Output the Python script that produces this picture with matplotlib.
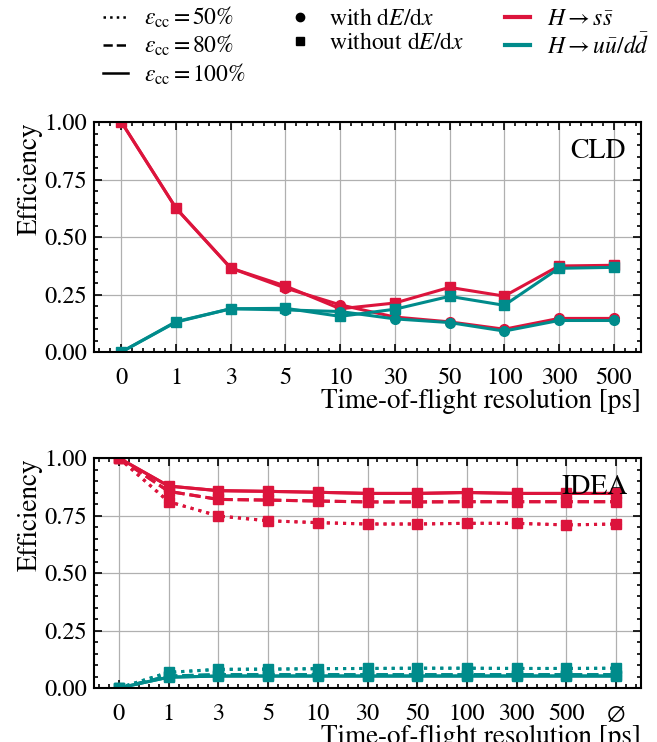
import matplotlib
matplotlib.use("Agg")
import matplotlib.pyplot as plt
from matplotlib.lines import Line2D
from matplotlib.ticker import MultipleLocator

plt.rcParams['font.family'] = ['STIXGeneral', 'Liberation Serif', 'DejaVu Serif']
plt.rcParams['mathtext.fontset'] = 'stix'
plt.rcParams['font.size'] = 17.5

RED = '#DC143C'
TEAL = '#008B8B'

# ---- data ----
cld_labels = ['0', '1', '3', '5', '10', '30', '50', '100', '300', '500']
idea_labels = ['0', '1', '3', '5', '10', '30', '50', '100', '300', '500', r'$\emptyset$']

# CLD (eps_cc = 100%)
cld_ss_with = [1.0, 0.625, 0.365, 0.278, 0.205, 0.152, 0.131, 0.099, 0.146, 0.146]
cld_ss_without = [1.0, 0.625, 0.365, 0.287, 0.188, 0.213, 0.281, 0.243, 0.374, 0.377]
cld_uu_with = [0.0, 0.130, 0.188, 0.183, 0.176, 0.144, 0.128, 0.091, 0.137, 0.137]
cld_uu_without = [0.0, 0.132, 0.188, 0.190, 0.155, 0.186, 0.242, 0.203, 0.364, 0.368]

# IDEA
idea_ss_100 = [1.0, 0.878, 0.858, 0.855, 0.851, 0.846, 0.846, 0.850, 0.846, 0.846, 0.846]
idea_ss_80 = [1.0, 0.855, 0.820, 0.817, 0.813, 0.809, 0.809, 0.810, 0.810, 0.810, 0.810]
idea_ss_50 = [1.0, 0.810, 0.748, 0.727, 0.719, 0.713, 0.713, 0.716, 0.716, 0.709, 0.713]
idea_uu_100 = [0.0, 0.047, 0.052, 0.052, 0.052, 0.052, 0.052, 0.052, 0.052, 0.052, 0.052]
idea_uu_80 = [0.0, 0.052, 0.058, 0.058, 0.058, 0.058, 0.058, 0.058, 0.058, 0.058, 0.058]
idea_uu_50 = [0.0, 0.068, 0.081, 0.082, 0.084, 0.085, 0.086, 0.086, 0.085, 0.085, 0.086]

fig = plt.figure(figsize=(6.57, 7.42), dpi=100)
W, H = 657, 742
ax1 = fig.add_axes([94 / W, (H - 352) / H, 547 / W, 230 / H])
ax2 = fig.add_axes([94 / W, (H - 688) / H, 547 / W, 230 / H])

lw = 2.2
ms = 7

def style(ax, labels):
    n = len(labels)
    ax.set_xlim(-0.5, n - 0.5)
    ax.set_ylim(0, 1)
    ax.set_xticks(range(n))
    ax.set_xticklabels(labels)
    ax.set_yticks([0, 0.25, 0.5, 0.75, 1.0])
    ax.set_yticklabels(['0.00', '0.25', '0.50', '0.75', '1.00'])
    ax.xaxis.set_minor_locator(MultipleLocator(0.2))
    ax.yaxis.set_minor_locator(MultipleLocator(0.05))
    ax.tick_params(which='both', direction='in', top=True, right=True, width=1.2)
    ax.tick_params(which='major', length=6)
    ax.tick_params(which='minor', length=3)
    ax.tick_params(axis='x', which='major', pad=11)
    ax.tick_params(axis='y', which='major', pad=5)
    for s in ax.spines.values():
        s.set_linewidth(1.5)
    ax.grid(True, which='major', color='#b0b0b0', lw=0.9)
    ax.set_axisbelow(True)
    ax.set_ylabel('Efficiency', loc='top', labelpad=1, fontsize=19.5)
    ax.set_xlabel('Time-of-flight resolution [ps]', loc='right', labelpad=0, fontsize=19.5)

style(ax1, cld_labels)
style(ax2, idea_labels)

x1 = range(len(cld_labels))
ax1.plot(x1, cld_ss_with, '-', color=RED, marker='o', lw=lw, ms=ms)
ax1.plot(x1, cld_ss_without, '-', color=RED, marker='s', lw=lw, ms=ms)
ax1.plot(x1, cld_uu_with, '-', color=TEAL, marker='o', lw=lw, ms=ms)
ax1.plot(x1, cld_uu_without, '-', color=TEAL, marker='s', lw=lw, ms=ms)
ax1.text(0.972, 0.925, 'CLD', transform=ax1.transAxes, ha='right', va='top', fontsize=20)

x2 = range(len(idea_labels))
ax2.text(0.975, 0.925, 'IDEA', transform=ax2.transAxes, ha='right', va='top', fontsize=20)
for vals, ls, c in [(idea_ss_50, ':', RED), (idea_ss_80, '--', RED), (idea_ss_100, '-', RED),
                    (idea_uu_50, ':', TEAL), (idea_uu_80, '--', TEAL), (idea_uu_100, '-', TEAL)]:
    ax2.plot(x2, vals, linestyle=ls, color=c, marker='o', lw=lw, ms=ms)
    ax2.plot(x2, vals, linestyle=ls, color=c, marker='s', lw=lw, ms=ms)

handles = [
    Line2D([], [], color='k', ls=':', lw=1.8),
    Line2D([], [], color='k', ls='--', lw=1.8),
    Line2D([], [], color='k', ls='-', lw=1.8),
    Line2D([], [], color='k', ls='none', marker='o', ms=6),
    Line2D([], [], color='k', ls='none', marker='s', ms=6),
    Line2D([], [], color=RED, ls='-', lw=3),
    Line2D([], [], color=TEAL, ls='-', lw=3),
]
labels = [r'$\varepsilon_{\mathrm{cc}}\,$=$\,$50%', r'$\varepsilon_{\mathrm{cc}}\,$=$\,$80%',
          r'$\varepsilon_{\mathrm{cc}}\,$=$\,$100%',
          r'with d$E$/d$x$', r'without d$E$/d$x$',
          r'$H \rightarrow s\bar{s}$', r'$H \rightarrow u\bar{u}/d\bar{d}$']
fig.legend(handles, labels, ncol=3, loc='upper left', bbox_to_anchor=(103 / W, 1 - 5 / H),
           frameon=False, fontsize=17, handlelength=1.05, columnspacing=1.75,
           labelspacing=0.12, handletextpad=0.7, borderpad=0, borderaxespad=0)

fig.savefig('out.png', dpi=100)
